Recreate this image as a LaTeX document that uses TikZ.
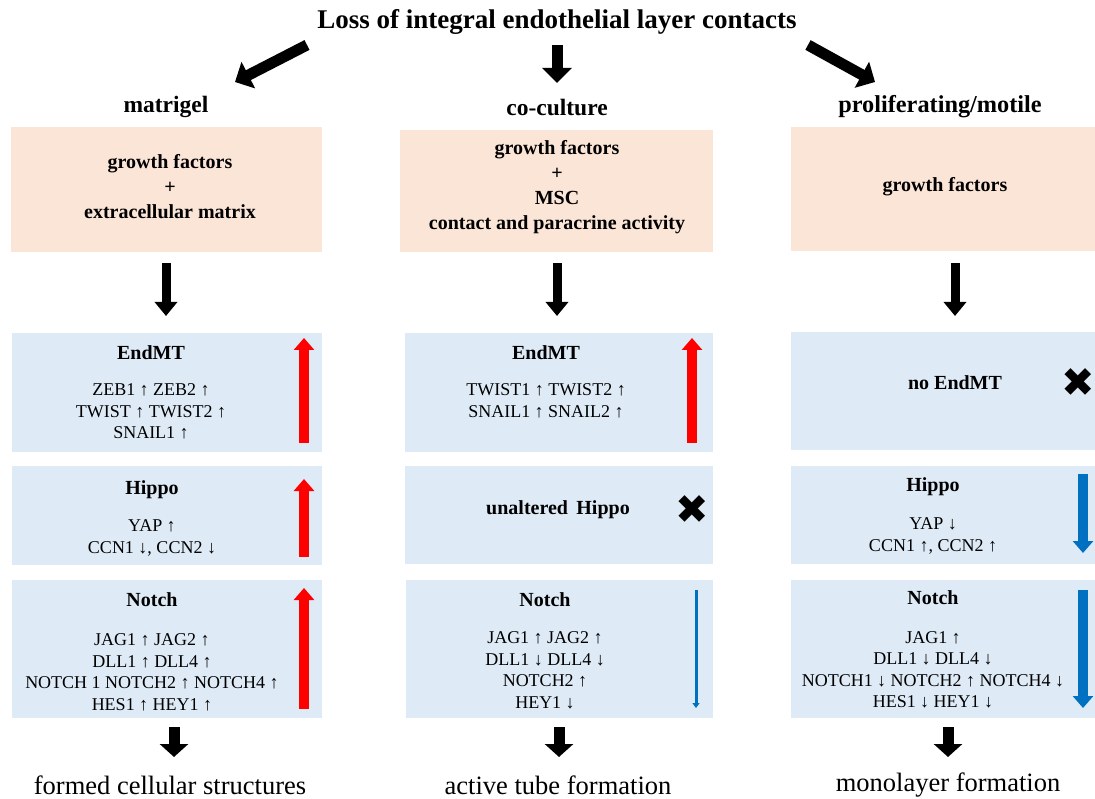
\documentclass[tikz,border=0pt]{standalone}
\usepackage{fontspec}
\setmainfont{Liberation Serif}
\newfontfamily\markfont{DejaVu Sans}
\usetikzlibrary{arrows.meta}
\definecolor{peach}{HTML}{FBE5D6}
\definecolor{paleblue}{HTML}{DEEBF7}
\definecolor{arrowred}{HTML}{FF0000}
\definecolor{arrowblue}{HTML}{0070C0}
\tikzset{
	every node/.style={inner sep=0pt,outer sep=0pt},
	peach-box/.style={fill=peach,draw=none},
	blue-box/.style={fill=paleblue,draw=none},
	title-text/.style={font=\bfseries\fontsize{27}{30}\selectfont},
	column-text/.style={font=\bfseries\fontsize{23.5}{28}\selectfont},
	factor-text/.style={align=center,font=\bfseries\fontsize{20}{25}\selectfont},
	head-text/.style={font=\bfseries\fontsize{20}{24}\selectfont},
	gene-text/.style={align=center,font=\fontsize{18}{21.5}\selectfont},
	result-text/.style={font=\fontsize{26.5}{30}\selectfont},
	cross-mark/.style={font=\markfont\fontsize{40}{40}\selectfont},
	big-arrow/.style={line width=11pt,-{Triangle[width=29pt,length=15pt]}},
	black-arrow/.style={line width=9pt,-{Triangle[width=22pt,length=14pt]}},
	end-arrow/.style={line width=11pt,-{Triangle[width=28pt,length=13pt]}},
	red-arrow/.style={draw=arrowred,line width=10pt,-{Triangle[width=20pt,length=12pt]}},
	blue-arrow/.style={draw=arrowblue,line width=10pt,-{Triangle[width=20pt,length=12pt]}},
	thin-blue-arrow/.style={draw=arrowblue,line width=3pt,-{Triangle[width=7pt,length=5pt]}},
}

\begin{document}
\begin{tikzpicture}[x=1pt,y=-1pt]
		\useasboundingbox (0,0) rectangle (1095,799);

		\node[title-text] (loss) at (557,22) {Loss of integral endothelial layer contacts};
		\node[column-text] (matrigel) at (166,107) {matrigel};
		\node[column-text] (coculture) at (557,107) {co-culture};
		\node[column-text,font=\bfseries\fontsize{24.3}{28}\selectfont] (prolif) at (940,107) {proliferating/motile};

		\coordinate (lossL) at (307,45);
		\coordinate (lossM) at (557,45);
		\coordinate (lossR) at (808,45);
		\coordinate (colL) at (235,82);
		\coordinate (colM) at (557,83);
		\coordinate (colR) at (875,82);
		\draw[big-arrow] (lossL) -- (colL);
		\draw[big-arrow] (lossM) -- (colM);
		\draw[big-arrow] (lossR) -- (colR);

		% stimuli
		\node[peach-box,minimum width=311pt,minimum height=125pt] (lStim) at (166.5,189.5) {};
		\node[peach-box,minimum width=313pt,minimum height=122pt] (mStim) at (556.5,191) {};
		\node[peach-box,minimum width=304pt,minimum height=124pt] (rStim) at (943,189) {};
		\node[factor-text] (lStimText) at (170,187) {growth factors\\+\\extracellular matrix};
		\node[factor-text] (mStimText) at (557,187.5) {growth factors\\+\\MSC\\contact and paracrine activity};
		\node[factor-text] (rStimText) at (945,187) {growth factors};

		\coordinate (lStimOut) at (166,263);
		\coordinate (mStimOut) at (557,263);
		\coordinate (rStimOut) at (955,263);
		\coordinate (lPathIn) at (166,316);
		\coordinate (mPathIn) at (557,316);
		\coordinate (rPathIn) at (955,316);
		\draw[black-arrow] (lStimOut) -- (lPathIn);
		\draw[black-arrow] (mStimOut) -- (mPathIn);
		\draw[black-arrow] (rStimOut) -- (rPathIn);

		% EndMT
		\node[blue-box,minimum width=310pt,minimum height=119pt] (lEnd) at (167,392.5) {};
		\node[blue-box,minimum width=308pt,minimum height=119pt] (mEnd) at (559,392.5) {};
		\node[blue-box,minimum width=304pt,minimum height=118pt] (rEnd) at (943,391) {};
		\node[head-text] (lEndHead) at (151,353) {EndMT};
		\node[gene-text] (lEndGenes) at (151,411.5) {ZEB1 ↑ ZEB2 ↑\\TWIST ↑ TWIST2 ↑\\SNAIL1 ↑};
		\node[head-text] (mEndHead) at (546,353) {EndMT};
		\node[gene-text] (mEndGenes) at (546,401) {TWIST1 ↑ TWIST2 ↑\\SNAIL1 ↑ SNAIL2 ↑};
		\node[head-text] (rEndHead) at (955,383) {no EndMT};
		\node[cross-mark] (rEndCross) at (1078,383) {✖};

		% Hippo
		\node[blue-box,minimum width=310pt,minimum height=99pt] (lHippo) at (167,515.5) {};
		\node[blue-box,minimum width=308pt,minimum height=98pt] (mHippo) at (559,515) {};
		\node[blue-box,minimum width=304pt,minimum height=98pt] (rHippo) at (943,515) {};
		\node[head-text] (lHippoHead) at (152,490) {Hippo};
		\node[gene-text] (lHippoGenes) at (152,538) {YAP ↑\\CCN1 ↓, CCN2 ↓};
		\node[head-text] (mHippoHead) at (558,510) {unaltered\, Hippo};
		\node[cross-mark] (mHippoCross) at (692,510) {✖};
		\node[head-text] (rHippoHead) at (933,487) {Hippo};
		\node[gene-text] (rHippoGenes) at (933,536) {YAP ↓\\CCN1 ↑, CCN2 ↑};

		% Notch
		\node[blue-box,minimum width=310pt,minimum height=138pt] (lNotch) at (167,649) {};
		\node[blue-box,minimum width=307pt,minimum height=138pt] (mNotch) at (559.5,649) {};
		\node[blue-box,minimum width=304pt,minimum height=138pt] (rNotch) at (943,649) {};
		\node[head-text] (lNotchHead) at (152,600) {Notch};
		\node[gene-text] (lNotchGenes) at (152,672.5) {JAG1 ↑ JAG2 ↑\\DLL1 ↑ DLL4 ↑\\NOTCH 1 NOTCH2 ↑ NOTCH4 ↑\\HES1 ↑ HEY1 ↑};
		\node[head-text] (mNotchHead) at (545,600) {Notch};
		\node[gene-text] (mNotchGenes) at (545,670.5) {JAG1 ↑ JAG2 ↑\\DLL1 ↓ DLL4 ↓\\NOTCH2 ↑\\HEY1 ↓};
		\node[head-text] (rNotchHead) at (933,598) {Notch};
		\node[gene-text] (rNotchGenes) at (933,670) {JAG1 ↑\\DLL1 ↓ DLL4 ↓\\NOTCH1 ↓ NOTCH2 ↑ NOTCH4 ↓\\HES1 ↓ HEY1 ↓};

		% trend arrows
		\coordinate (lEndLow) at (304,443);
		\coordinate (lEndHigh) at (304,338);
		\coordinate (mEndLow) at (692,443);
		\coordinate (mEndHigh) at (692,338);
		\coordinate (lHippoLow) at (304,557);
		\coordinate (lHippoHigh) at (304,479);
		\coordinate (rHippoHigh) at (1083,474);
		\coordinate (rHippoLow) at (1083,553);
		\coordinate (lNotchLow) at (304,709);
		\coordinate (lNotchHigh) at (304,588);
		\coordinate (mNotchHigh) at (696,590);
		\coordinate (mNotchLow) at (696,708);
		\coordinate (rNotchHigh) at (1083,590);
		\coordinate (rNotchLow) at (1083,708);
		\draw[red-arrow] (lEndLow) -- (lEndHigh);
		\draw[red-arrow] (mEndLow) -- (mEndHigh);
		\draw[red-arrow] (lHippoLow) -- (lHippoHigh);
		\draw[red-arrow] (lNotchLow) -- (lNotchHigh);
		\draw[blue-arrow] (rHippoHigh) -- (rHippoLow);
		\draw[blue-arrow] (rNotchHigh) -- (rNotchLow);
		\draw[thin-blue-arrow] (mNotchHigh) -- (mNotchLow);

		% outcomes
		\coordinate (lOut) at (174,727);
		\coordinate (mOut) at (559,727);
		\coordinate (rOut) at (948,727);
		\coordinate (lResIn) at (174,757);
		\coordinate (mResIn) at (559,757);
		\coordinate (rResIn) at (948,757);
		\draw[end-arrow] (lOut) -- (lResIn);
		\draw[end-arrow] (mOut) -- (mResIn);
		\draw[end-arrow] (rOut) -- (rResIn);
		\node[result-text] (lResult) at (170,785) {formed cellular structures};
		\node[result-text] (mResult) at (558,785) {active tube formation};
		\node[result-text] (rResult) at (948,785) {monolayer formation};
\end{tikzpicture}
\end{document}
